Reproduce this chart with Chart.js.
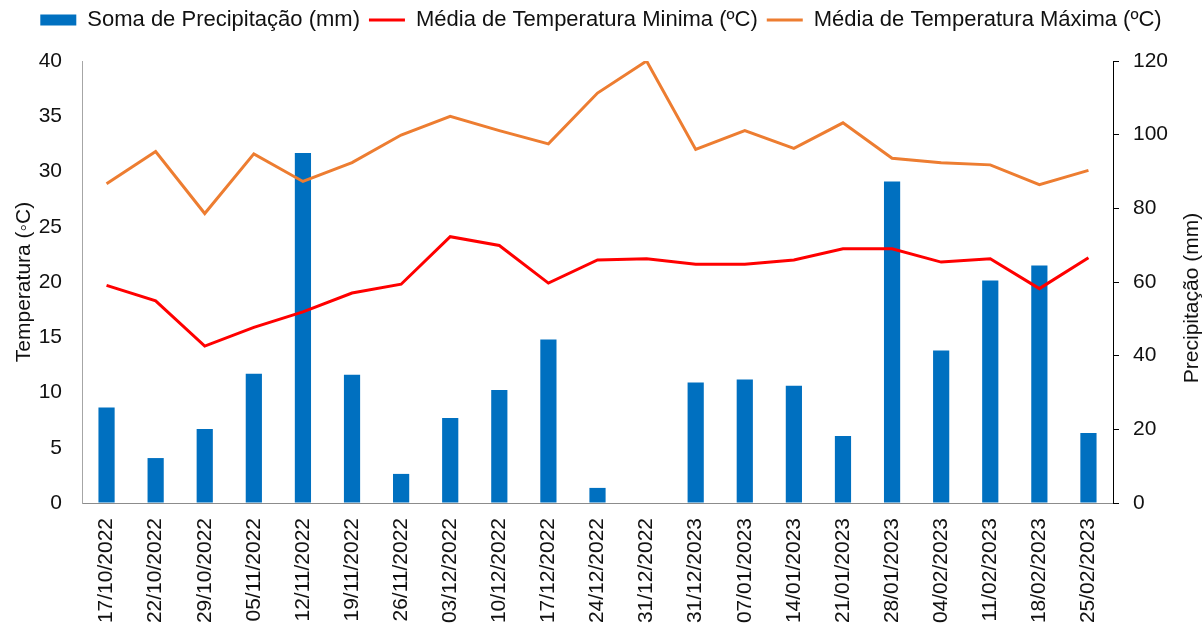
<!DOCTYPE html>
<html>
<head>
<meta charset="utf-8">
<script src="https://cdn.jsdelivr.net/npm/chart.js@4.4.1/dist/chart.umd.min.js"></script>
<style>
  html, body { margin: 0; padding: 0; background: #fff; }
  #wrap { width: 1202px; height: 625px; }
</style>
</head>
<body>
<div id="wrap"><canvas id="grafico" width="1202" height="625"></canvas></div>
<script>
// Dados semanais
const datas = ['17/10/2022', '22/10/2022', '29/10/2022', '05/11/2022', '12/11/2022', '19/11/2022',
    '26/11/2022', '03/12/2022', '10/12/2022', '17/12/2022', '24/12/2022', '31/12/2022',
    '31/12/2023', '07/01/2023', '14/01/2023', '21/01/2023', '28/01/2023', '04/02/2023',
    '11/02/2023', '18/02/2023', '25/02/2023'];
const precipitacao = [25.9, 12.2, 20.1, 35.1, 95.0, 34.8, 7.9, 23.1, 30.7, 44.4, 4.1, 0,
    32.7, 33.5, 31.8, 18.2, 87.3, 41.4, 60.4, 64.5, 19.0];
const tempMinima = [19.7, 18.3, 14.2, 15.9, 17.3, 19.0, 19.8, 24.1, 23.3, 19.9, 22.0, 22.1,
    21.6, 21.6, 22.0, 23.0, 23.0, 21.8, 22.1, 19.4, 22.2];
const tempMaxima = [28.9, 31.8, 26.2, 31.6, 29.1, 30.8, 33.3, 35.0, 33.7, 32.5, 37.1, 40.0,
    32.0, 33.7, 32.1, 34.4, 31.2, 30.8, 30.6, 28.8, 30.1];
const ticksTemp = [0, 5, 10, 15, 20, 25, 30, 35, 40];
const ticksPrec = [0, 20, 40, 60, 80, 100, 120];

const fonte = 'Liberation Sans, Arial, sans-serif';
Chart.defaults.font.family = fonte;
Chart.defaults.color = '#111';

// espaço extra abaixo da legenda
const espacoLegenda = {
    id: 'espacoLegenda',
    beforeInit(chart) {
        const fitOriginal = chart.legend.fit;
        chart.legend.fit = function () {
            fitOriginal.bind(chart.legend)();
            this.height = 61;
        };
    }
};

// título do eixo direito (lido de baixo para cima, como no original)
const tituloDireito = {
    id: 'tituloDireito',
    afterDraw(chart) {
        const ctx = chart.ctx;
        ctx.save();
        ctx.translate(1192, 298);
        ctx.rotate(-Math.PI / 2);
        ctx.font = '21px ' + fonte;
        ctx.fillStyle = '#111';
        ctx.textAlign = 'center';
        ctx.textBaseline = 'middle';
        ctx.fillText('Precipitação (mm)', 0, 0);
        ctx.restore();
    }
};

new Chart(document.getElementById('grafico'), {
    data: {
        labels: datas,
        datasets: [{
            type: 'bar',
            label: 'Soma de Precipitação (mm)',
            data: precipitacao,
            yAxisID: 'y1',
            backgroundColor: '#0070C0',
            borderWidth: 0,
            categoryPercentage: 1,
            barPercentage: 0.33,
            order: 2
        }, {
            type: 'line',
            label: 'Média de Temperatura Minima (ºC)',
            data: tempMinima,
            yAxisID: 'y',
            borderColor: '#FF0000',
            backgroundColor: '#FF0000',
            borderWidth: 3,
            pointRadius: 0,
            tension: 0,
            order: 1
        }, {
            type: 'line',
            label: 'Média de Temperatura Máxima (ºC)',
            data: tempMaxima,
            yAxisID: 'y',
            borderColor: '#ED7D31',
            backgroundColor: '#ED7D31',
            borderWidth: 3,
            pointRadius: 0,
            tension: 0,
            order: 0
        }]
    },
    options: {
        responsive: false,
        animation: false,
        layout: { padding: 0 },
        plugins: {
            tooltip: { enabled: false },
            legend: {
                position: 'top',
                labels: {
                    font: { size: 22 },
                    color: '#111',
                    usePointStyle: true,
                    pointStyleWidth: 36,
                    boxHeight: 11,
                    padding: 9,
                    sort: (a, b) => a.datasetIndex - b.datasetIndex,
                    generateLabels(chart) {
                        const itens = Chart.defaults.plugins.legend.labels.generateLabels(chart);
                        itens.forEach(function (it) {
                            const ds = chart.data.datasets[it.datasetIndex];
                            it.pointStyle = ds.type === 'line' ? 'line' : 'rect';
                        });
                        return itens;
                    }
                }
            }
        },
        scales: {
            x: {
                grid: { display: false },
                border: { display: true, color: '#8C8C8C', width: 1 },
                ticks: {
                    autoSkip: false,
                    maxRotation: 90,
                    minRotation: 90,
                    padding: 7,
                    font: { size: 21 },
                    color: '#111'
                },
                afterFit(scale) { scale.height = 122; }
            },
            y: {
                position: 'left',
                min: 0,
                max: 40,
                grid: { display: false },
                border: { display: true, color: '#A6A6A6', width: 1 },
                afterBuildTicks(scale) { scale.ticks = ticksTemp.map(v => ({ value: v })); },
                ticks: { padding: 12, font: { size: 21 }, color: '#111' },
                title: {
                    display: true,
                    text: 'Temperatura (◦C)',
                    font: { size: 21 },
                    color: '#111',
                    padding: { top: 12, bottom: 0 }
                },
                afterFit(scale) { scale.width = 82; }
            },
            y1: {
                position: 'right',
                min: 0,
                max: 120,
                grid: {
                    display: true,
                    drawOnChartArea: false,
                    drawTicks: true,
                    tickLength: 6,
                    color: '#000'
                },
                border: { display: true, color: '#000', width: 1 },
                afterBuildTicks(scale) { scale.ticks = ticksPrec.map(v => ({ value: v })); },
                ticks: { padding: 14, font: { size: 21 }, color: '#111' },
                afterFit(scale) { scale.width = 89; }
            }
        }
    },
    plugins: [espacoLegenda, tituloDireito]
});
</script>
</body>
</html>
